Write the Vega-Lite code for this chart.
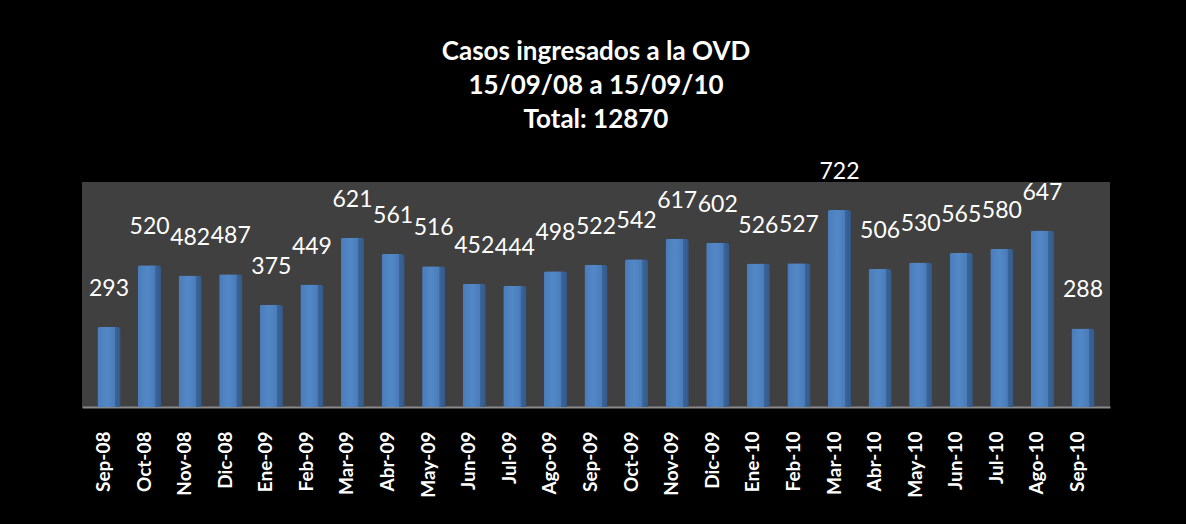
{
  "$schema": "https://vega.github.io/schema/vega-lite/v6.json",
  "width": 1028,
  "height": 225,
  "autosize": {"type": "none"},
  "padding": {"left": 82, "top": 182, "right": 76, "bottom": 117},
  "background": "#000000",
  "title": {
    "text": ["Casos ingresados a la OVD", "15/09/08 a 15/09/10", "Total: 12870"],
    "color": "#ffffff",
    "font": "Lato",
    "fontSize": 26,
    "fontWeight": "bold",
    "lineHeight": 34,
    "anchor": "middle",
    "offset": 28
  },
  "data": {
    "values": [
      {"mes": "Sep-08", "casos": 293},
      {"mes": "Oct-08", "casos": 520},
      {"mes": "Nov-08", "casos": 482},
      {"mes": "Dic-08", "casos": 487},
      {"mes": "Ene-09", "casos": 375},
      {"mes": "Feb-09", "casos": 449},
      {"mes": "Mar-09", "casos": 621},
      {"mes": "Abr-09", "casos": 561},
      {"mes": "May-09", "casos": 516},
      {"mes": "Jun-09", "casos": 452},
      {"mes": "Jul-09", "casos": 444},
      {"mes": "Ago-09", "casos": 498},
      {"mes": "Sep-09", "casos": 522},
      {"mes": "Oct-09", "casos": 542},
      {"mes": "Nov-09", "casos": 617},
      {"mes": "Dic-09", "casos": 602},
      {"mes": "Ene-10", "casos": 526},
      {"mes": "Feb-10", "casos": 527},
      {"mes": "Mar-10", "casos": 722},
      {"mes": "Abr-10", "casos": 506},
      {"mes": "May-10", "casos": 530},
      {"mes": "Jun-10", "casos": 565},
      {"mes": "Jul-10", "casos": 580},
      {"mes": "Ago-10", "casos": 647},
      {"mes": "Sep-10", "casos": 288}
    ]
  },
  "encoding": {
    "x": {
      "field": "mes",
      "type": "nominal",
      "sort": null,
      "scale": {"paddingInner": 0.43, "paddingOuter": 0.38},
      "axis": {
        "title": null,
        "labelAngle": 270,
        "labelAlign": "right",
        "labelBaseline": "middle",
        "labelColor": "#ffffff",
        "labelFont": "Lato",
        "labelFontSize": 19,
        "labelFontWeight": "bold",
        "labelPadding": 24,
        "labelOffset": -5,
        "ticks": false,
        "domainColor": "#8a8a8a",
        "domainWidth": 2
      }
    },
    "y": {
      "field": "casos",
      "type": "quantitative",
      "scale": {"domain": [0, 825], "nice": false},
      "axis": null
    }
  },
  "layer": [
    {
      "mark": {
        "type": "bar",
        "color": {
          "gradient": "linear",
          "x1": 0, "x2": 1, "y1": 0, "y2": 0,
          "stops": [
            {"offset": 0, "color": "#4a7cba"},
            {"offset": 0.4, "color": "#5388c6"},
            {"offset": 0.74, "color": "#4a7cba"},
            {"offset": 0.76, "color": "#3a6599"},
            {"offset": 1, "color": "#33598a"}
          ]
        },
        "cornerRadiusTopLeft": 2,
        "cornerRadiusTopRight": 3
      }
    },
    {
      "mark": {
        "type": "text",
        "color": "#ffffff",
        "font": "Lato",
        "fontSize": 23,
        "baseline": "bottom",
        "dy": -26
      },
      "encoding": {"text": {"field": "casos", "type": "quantitative"}}
    }
  ],
  "config": {
    "view": {"fill": "#404040", "stroke": null}
  }
}
